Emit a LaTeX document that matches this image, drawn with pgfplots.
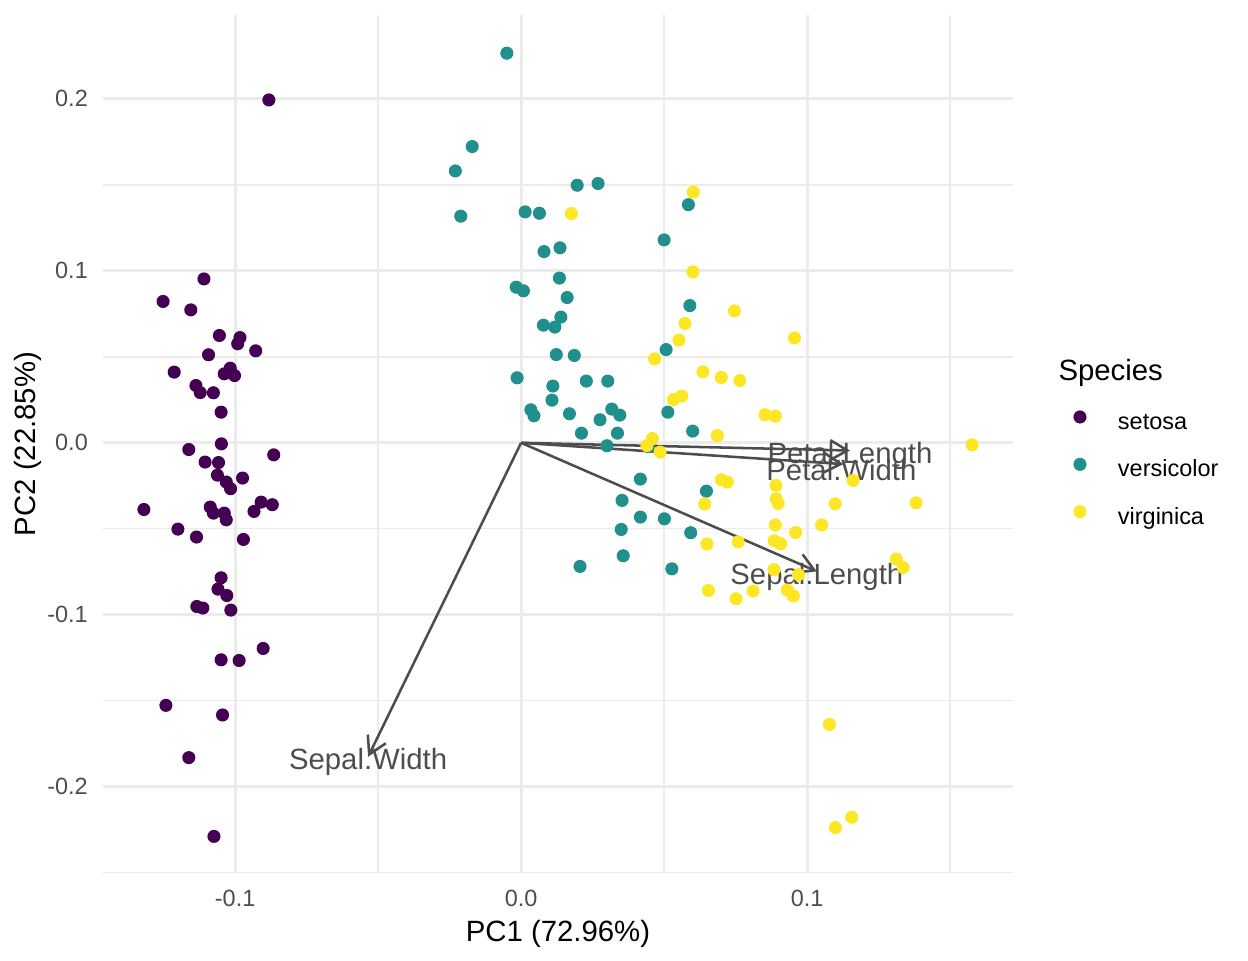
\documentclass[border=0pt]{standalone}
\usepackage{fontspec}
\setmainfont{Liberation Sans}
\usepackage{pgfplots}
\pgfplotsset{compat=1.18}
\usetikzlibrary{arrows.meta}
\definecolor{setosa}{HTML}{440154}
\definecolor{versi}{HTML}{21908C}
\definecolor{virg}{HTML}{FDE725}
\definecolor{gridc}{HTML}{EBEBEB}
\definecolor{tickc}{HTML}{4D4D4D}
\definecolor{arrowc}{HTML}{4D4D4D}
\begin{document}
\begin{tikzpicture}
\path[use as bounding box] (0,0) rectangle (468pt,360pt);
\begin{axis}[
  at={(38.625pt,32.625pt)}, anchor=south west,
  scale only axis, width=341.25pt, height=321.75pt,
  xmin=-0.1462, xmax=0.172, ymin=-0.2502, ymax=0.2488,
  axis line style={draw=none}, major tick length=0pt, minor tick length=0pt,
  tick style={draw=none},
  xtick={-0.1,0,0.1}, xticklabels={-0.1,0.0,0.1},
  ytick={-0.2,-0.1,0,0.1,0.2}, yticklabels={-0.2,-0.1,0.0,0.1,0.2},
  minor xtick={-0.05,0.05,0.15}, minor ytick={-0.25,-0.15,-0.05,0.05,0.15},
  grid=both,
  major grid style={gridc, line width=1.07pt},
  minor grid style={gridc, line width=0.53pt},
  ticklabel style={font=\fontsize{8.8}{10}\selectfont, text=tickc, inner sep=0pt},
  xticklabel style={anchor=base, yshift=-12.6pt},
  yticklabel style={anchor=east, xshift=-5.5pt},
  xlabel={PC1 (72.96\%)}, ylabel={PC2 (22.85\%)},
  label style={font=\fontsize{11}{13}\selectfont},
  xlabel style={at={(axis description cs:0.5,-0.0793)}, anchor=base},
  ylabel style={at={(axis description cs:-0.0747,0.5)}, anchor=base},
  legend style={draw=none, fill=none, at={(axis description cs:1.0670,0.5385)},
    anchor=north west, inner sep=0pt, outer sep=0pt, row sep=8.95pt,
    font=\fontsize{8.8}{10}\selectfont,
    nodes={inner sep=0pt, text height=6.4pt, text depth=1.9pt},
    /tikz/every odd column/.append style={column sep=12pt}},
  legend cell align=left,
  legend image code/.code={\draw[#1] plot coordinates {(0pt,2.4pt)};},
]
\addplot[only marks, mark=*, mark size=2.25pt, color=setosa] coordinates {
(-0.0882,0.1994) (-0.1109,0.0953) (-0.1252,0.0822) (-0.1155,0.0773) (-0.1055,0.0624)
(-0.0983,0.0612) (-0.0991,0.0576) (-0.0928,0.0535) (-0.1093,0.0512) (-0.1213,0.0411)
(-0.1017,0.0434) (-0.1038,0.0401) (-0.1002,0.0391) (-0.1137,0.0333) (-0.1122,0.0292)
(-0.1076,0.0291) (-0.1049,0.0178) (-0.1048,-0.0006) (-0.1162,-0.0039) (-0.0865,-0.0070)
(-0.1105,-0.0112) (-0.1058,-0.0115) (-0.1062,-0.0188) (-0.0974,-0.0205) (-0.1031,-0.0228)
(-0.1016,-0.0267) (-0.1319,-0.0388) (-0.1087,-0.0374) (-0.1076,-0.0409) (-0.1038,-0.0409)
(-0.1031,-0.0448) (-0.0909,-0.0345) (-0.0870,-0.0360) (-0.0934,-0.0399) (-0.1200,-0.0502)
(-0.1135,-0.0548) (-0.0971,-0.0562) (-0.1049,-0.0785) (-0.1060,-0.0851) (-0.1029,-0.0888)
(-0.1134,-0.0952) (-0.1113,-0.0961) (-0.1015,-0.0973) (-0.0902,-0.1196) (-0.1049,-0.1262)
(-0.0986,-0.1266) (-0.1242,-0.1527) (-0.1044,-0.1583) (-0.1162,-0.1831) (-0.1074,-0.2289)
};
\addlegendentry{setosa}
\addplot[only marks, mark=*, mark size=2.25pt, color=versi] coordinates {
(-0.0050,0.2266) (-0.0171,0.1723) (-0.0230,0.1581) (-0.0211,0.1318) (0.0196,0.1498)
(0.0269,0.1508) (0.0014,0.1343) (0.0064,0.1335) (0.0585,0.1385) (0.0500,0.1180)
(0.0080,0.1112) (0.0136,0.1134) (0.0134,0.0958) (-0.0017,0.0905) (0.0008,0.0884)
(0.0161,0.0845) (0.0590,0.0798) (0.0139,0.0731) (0.0078,0.0684) (0.0118,0.0673)
(0.0123,0.0513) (0.0186,0.0508) (0.0507,0.0542) (-0.0014,0.0378) (0.0111,0.0330)
(0.0228,0.0359) (0.0303,0.0359) (0.0108,0.0248) (0.0034,0.0192) (0.0045,0.0157)
(0.0169,0.0169) (0.0317,0.0196) (0.0345,0.0161) (0.0276,0.0134) (0.0513,0.0178)
(0.0211,0.0056) (0.0337,0.0056) (0.0600,0.0068) (0.0300,-0.0017) (0.0445,-0.0022)
(0.0417,-0.0211) (0.0353,-0.0335) (0.0417,-0.0432) (0.0501,-0.0442) (0.0350,-0.0504)
(0.0593,-0.0523) (0.0648,-0.0281) (0.0357,-0.0657) (0.0206,-0.0719) (0.0527,-0.0733)
};
\addlegendentry{versicolor}
\addplot[only marks, mark=*, mark size=2.25pt, color=virg] coordinates {
(0.0176,0.1333) (0.0602,0.1458) (0.0601,0.0994) (0.0573,0.0694) (0.0746,0.0767)
(0.0552,0.0597) (0.0467,0.0488) (0.0636,0.0413) (0.0700,0.0380) (0.0765,0.0362)
(0.0956,0.0610) (0.0533,0.0252) (0.0562,0.0272) (0.0853,0.0163) (0.0889,0.0155)
(0.0686,0.0042) (0.0459,0.0025) (0.0440,-0.0016) (0.0486,-0.0054) (0.1577,-0.0012)
(0.1161,-0.0219) (0.0700,-0.0215) (0.0721,-0.0228) (0.0891,-0.0248) (0.0892,-0.0326)
(0.0899,-0.0353) (0.1098,-0.0355) (0.1381,-0.0349) (0.0642,-0.0356) (0.0889,-0.0478)
(0.1051,-0.0478) (0.0960,-0.0522) (0.0650,-0.0589) (0.0759,-0.0576) (0.0885,-0.0570)
(0.0908,-0.0587) (0.1312,-0.0676) (0.1336,-0.0725) (0.0884,-0.0738) (0.0970,-0.0767)
(0.0655,-0.0859) (0.0752,-0.0907) (0.0811,-0.0862) (0.0931,-0.0856) (0.0952,-0.0891)
(0.1078,-0.1638) (0.1156,-0.2178) (0.1099,-0.2238)
};
\addlegendentry{virginica}
\addplot[arrowc, line width=0.95pt, -{Straight Barb[length=6.5pt,width=7.5pt]}, forget plot] coordinates {(0,0) (0.1150,-0.0045)};
\addplot[arrowc, line width=0.95pt, -{Straight Barb[length=6.5pt,width=7.5pt]}, forget plot] coordinates {(0,0) (0.1127,-0.0124)};
\addplot[arrowc, line width=0.95pt, -{Straight Barb[length=6.5pt,width=7.5pt]}, forget plot] coordinates {(0,0) (0.1034,-0.0748)};
\addplot[arrowc, line width=0.95pt, -{Straight Barb[length=6.5pt,width=7.5pt]}, forget plot] coordinates {(0,0) (-0.0535,-0.1826)};
\node[text=arrowc, font=\fontsize{11}{13}\selectfont, inner sep=0pt] at (axis cs:0.1150,-0.0075) {Petal.Length};
\node[text=arrowc, font=\fontsize{11}{13}\selectfont, inner sep=0pt] at (axis cs:0.1120,-0.0158) {Petal.Width};
\node[text=arrowc, font=\fontsize{11}{13}\selectfont, inner sep=0pt] at (axis cs:0.1034,-0.0778) {Sepal.Length};
\node[text=arrowc, font=\fontsize{11}{13}\selectfont, inner sep=0pt] at (axis cs:-0.0535,-0.1856) {Sepal.Width};
\end{axis}
\node[anchor=base west, font=\fontsize{11}{13}\selectfont, inner sep=0pt] at (396.75pt,217.2pt) {Species};
\end{tikzpicture}
\end{document}
